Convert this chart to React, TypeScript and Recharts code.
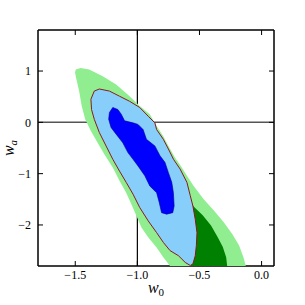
import React from 'react';
import { ScatterChart, Scatter, XAxis, YAxis, ReferenceLine, ReferenceArea } from 'recharts';

// contour outlines, in (w0, wa)
const outerGreen = [
  [-1.496, 1.03], [-1.456, 1.06], [-1.388, 1.03], [-1.279, 0.9], [-1.171, 0.74], [-1.062, 0.51],
  [-0.981, 0.32], [-0.9, 0.16], [-0.845, -0.07], [-0.791, -0.27], [-0.75, -0.46], [-0.696, -0.69],
  [-0.642, -0.88], [-0.601, -1.04], [-0.547, -1.24], [-0.466, -1.5], [-0.384, -1.72], [-0.303, -1.95],
  [-0.235, -2.18], [-0.181, -2.4], [-0.146, -2.63], [-0.127, -2.8], [-0.737, -2.8], [-0.791, -2.63],
  [-0.845, -2.44], [-0.913, -2.24], [-0.967, -2.05], [-1.008, -1.82], [-1.049, -1.59], [-1.09, -1.37],
  [-1.144, -1.14], [-1.198, -0.88], [-1.266, -0.62], [-1.32, -0.4], [-1.374, -0.17], [-1.42, 0.06],
  [-1.448, 0.32], [-1.469, 0.61], [-1.491, 0.84], [-1.502, 0.97],
];

const innerGreen = [
  [-0.62, -1.3], [-0.56, -1.6], [-0.543, -1.65], [-0.474, -1.81], [-0.407, -2.01], [-0.353, -2.24],
  [-0.312, -2.43], [-0.285, -2.63], [-0.277, -2.8], [-0.57, -2.8], [-0.6, -2.5], [-0.65, -2.0], [-0.65, -1.5],
];

const outerBlue = [
  [-1.374, 0.45], [-1.347, 0.61], [-1.306, 0.65], [-1.225, 0.61], [-1.144, 0.51], [-1.062, 0.41],
  [-0.981, 0.29], [-0.913, 0.12], [-0.859, -0.01], [-0.845, -0.14], [-0.791, -0.33], [-0.75, -0.52],
  [-0.709, -0.72], [-0.656, -0.91], [-0.601, -1.17], [-0.574, -1.43], [-0.553, -1.63], [-0.534, -1.89],
  [-0.52, -2.15], [-0.525, -2.4], [-0.534, -2.6], [-0.553, -2.76], [-0.574, -2.79], [-0.615, -2.73],
  [-0.669, -2.6], [-0.737, -2.5], [-0.791, -2.34], [-0.845, -2.15], [-0.913, -1.92], [-0.981, -1.66],
  [-1.035, -1.4], [-1.09, -1.17], [-1.144, -0.95], [-1.198, -0.72], [-1.252, -0.46], [-1.306, -0.2],
  [-1.347, 0.06], [-1.369, 0.25],
];

const innerBlue = [
  [-1.198, 0.29], [-1.157, 0.25], [-1.13, 0.16], [-1.103, 0.03], [-1.035, -0.01], [-0.995, -0.04],
  [-0.954, -0.14], [-0.927, -0.33], [-0.859, -0.46], [-0.818, -0.65], [-0.778, -0.78], [-0.75, -0.98],
  [-0.723, -1.17], [-0.71, -1.37], [-0.704, -1.63], [-0.715, -1.76], [-0.764, -1.79], [-0.805, -1.76],
  [-0.824, -1.56], [-0.845, -1.37], [-0.9, -1.24], [-0.94, -1.04], [-0.995, -0.85], [-1.035, -0.72],
  [-1.076, -0.59], [-1.117, -0.4], [-1.171, -0.23], [-1.212, -0.1], [-1.231, 0.06], [-1.225, 0.19],
];

const xTicks = [-1.5, -1.0, -0.5, 0.0];
const yTicks = [-2, -1, 0, 1];
const xDomain = [-1.8, 0.1];
const yDomain = [-2.8, 1.8];

const toPoints = (poly: number[][]) => [...poly, poly[0]].map(([x, y]) => ({ x, y }));
const minus = (s: string) => s.replace('-', '\u2212');

const serif = '"Liberation Serif", serif';
const tickStyle = { fontFamily: serif, fontSize: 12, fill: '#000' };
const noDot = () => <g />;

export default function App() {
  const layers = [
    { data: outerGreen, fill: '#90ee90', stroke: 'none', width: 0 },
    { data: innerGreen, fill: '#008000', stroke: 'none', width: 0 },
    { data: outerBlue, fill: '#87cefa', stroke: '#8b1a1a', width: 1 },
    { data: innerBlue, fill: '#0000ff', stroke: '#00008b', width: 0.6 },
  ];
  return (
    <div style={{ position: 'absolute', left: 0, top: 0 }}>
      <ScatterChart width={305} height={305} margin={{ top: 29, right: 30, bottom: 0, left: 0 }}>
        <XAxis
          xAxisId="b"
          type="number"
          dataKey="x"
          domain={xDomain}
          ticks={xTicks}
          allowDataOverflow
          height={39}
          tickSize={-5}
          tickMargin={9}
          tick={tickStyle}
          tickFormatter={(v: number) => minus(v.toFixed(1))}
          stroke="#000"
          label={{
            content: (p: any) => {
              const vb = p.viewBox || {};
              return (
                <text x={vb.x + vb.width / 2} y={vb.y + 27} textAnchor="middle" fontFamily={serif} fill="#000">
                  <tspan fontStyle="italic" fontSize={16}>w</tspan>
                  <tspan fontSize={11} dy={3}>0</tspan>
                </text>
              );
            },
          }}
        />
        <XAxis
          xAxisId="t"
          orientation="top"
          type="number"
          dataKey="x"
          domain={xDomain}
          ticks={xTicks}
          allowDataOverflow
          height={1}
          tickSize={-5}
          tick={tickStyle}
          tickFormatter={() => ''}
          stroke="#000"
        />
        <YAxis
          yAxisId="l"
          type="number"
          dataKey="y"
          domain={yDomain}
          ticks={yTicks}
          allowDataOverflow
          width={38}
          tickSize={-5}
          tickMargin={12}
          tick={tickStyle}
          tickFormatter={(v: number) => minus(String(v))}
          stroke="#000"
          label={{
            content: (p: any) => {
              const vb = p.viewBox || {};
              const cx = 14;
              const cy = vb.y + vb.height / 2;
              return (
                <text x={cx} y={cy} textAnchor="middle" transform={`rotate(-90 ${cx} ${cy})`} fontFamily={serif} fill="#000">
                  <tspan fontStyle="italic" fontSize={16}>w</tspan>
                  <tspan fontStyle="italic" fontSize={11} dy={3}>a</tspan>
                </text>
              );
            },
          }}
        />
        <YAxis
          yAxisId="r"
          orientation="right"
          type="number"
          dataKey="y"
          domain={yDomain}
          ticks={yTicks}
          allowDataOverflow
          width={1}
          tickSize={-5}
          tick={tickStyle}
          tickFormatter={() => ''}
          stroke="#000"
        />
        {layers.map((l, i) => (
          <Scatter
            key={i}
            xAxisId="b"
            yAxisId="l"
            data={toPoints(l.data)}
            isAnimationActive={false}
            shape={noDot}
            line={{ fill: l.fill, stroke: l.stroke, strokeWidth: l.width }}
            lineType="joint"
            lineJointType="linear"
          />
        ))}
        {/* binds the top/right frame axes so they are drawn */}
        <Scatter xAxisId="t" yAxisId="r" data={toPoints(innerBlue)} isAnimationActive={false} shape={noDot} />
        <ReferenceLine xAxisId="b" yAxisId="l" y={0} stroke="#555" strokeWidth={1.5} />
        <ReferenceLine xAxisId="b" yAxisId="l" x={-1} stroke="#000" strokeWidth={1.2} />
        <ReferenceArea
          xAxisId="b"
          yAxisId="l"
          x1={xDomain[0]}
          x2={xDomain[1]}
          y1={yDomain[0]}
          y2={yDomain[1]}
          fill="none"
          fillOpacity={0}
          stroke="#000"
          strokeWidth={1}
        />
      </ScatterChart>
    </div>
  );
}
